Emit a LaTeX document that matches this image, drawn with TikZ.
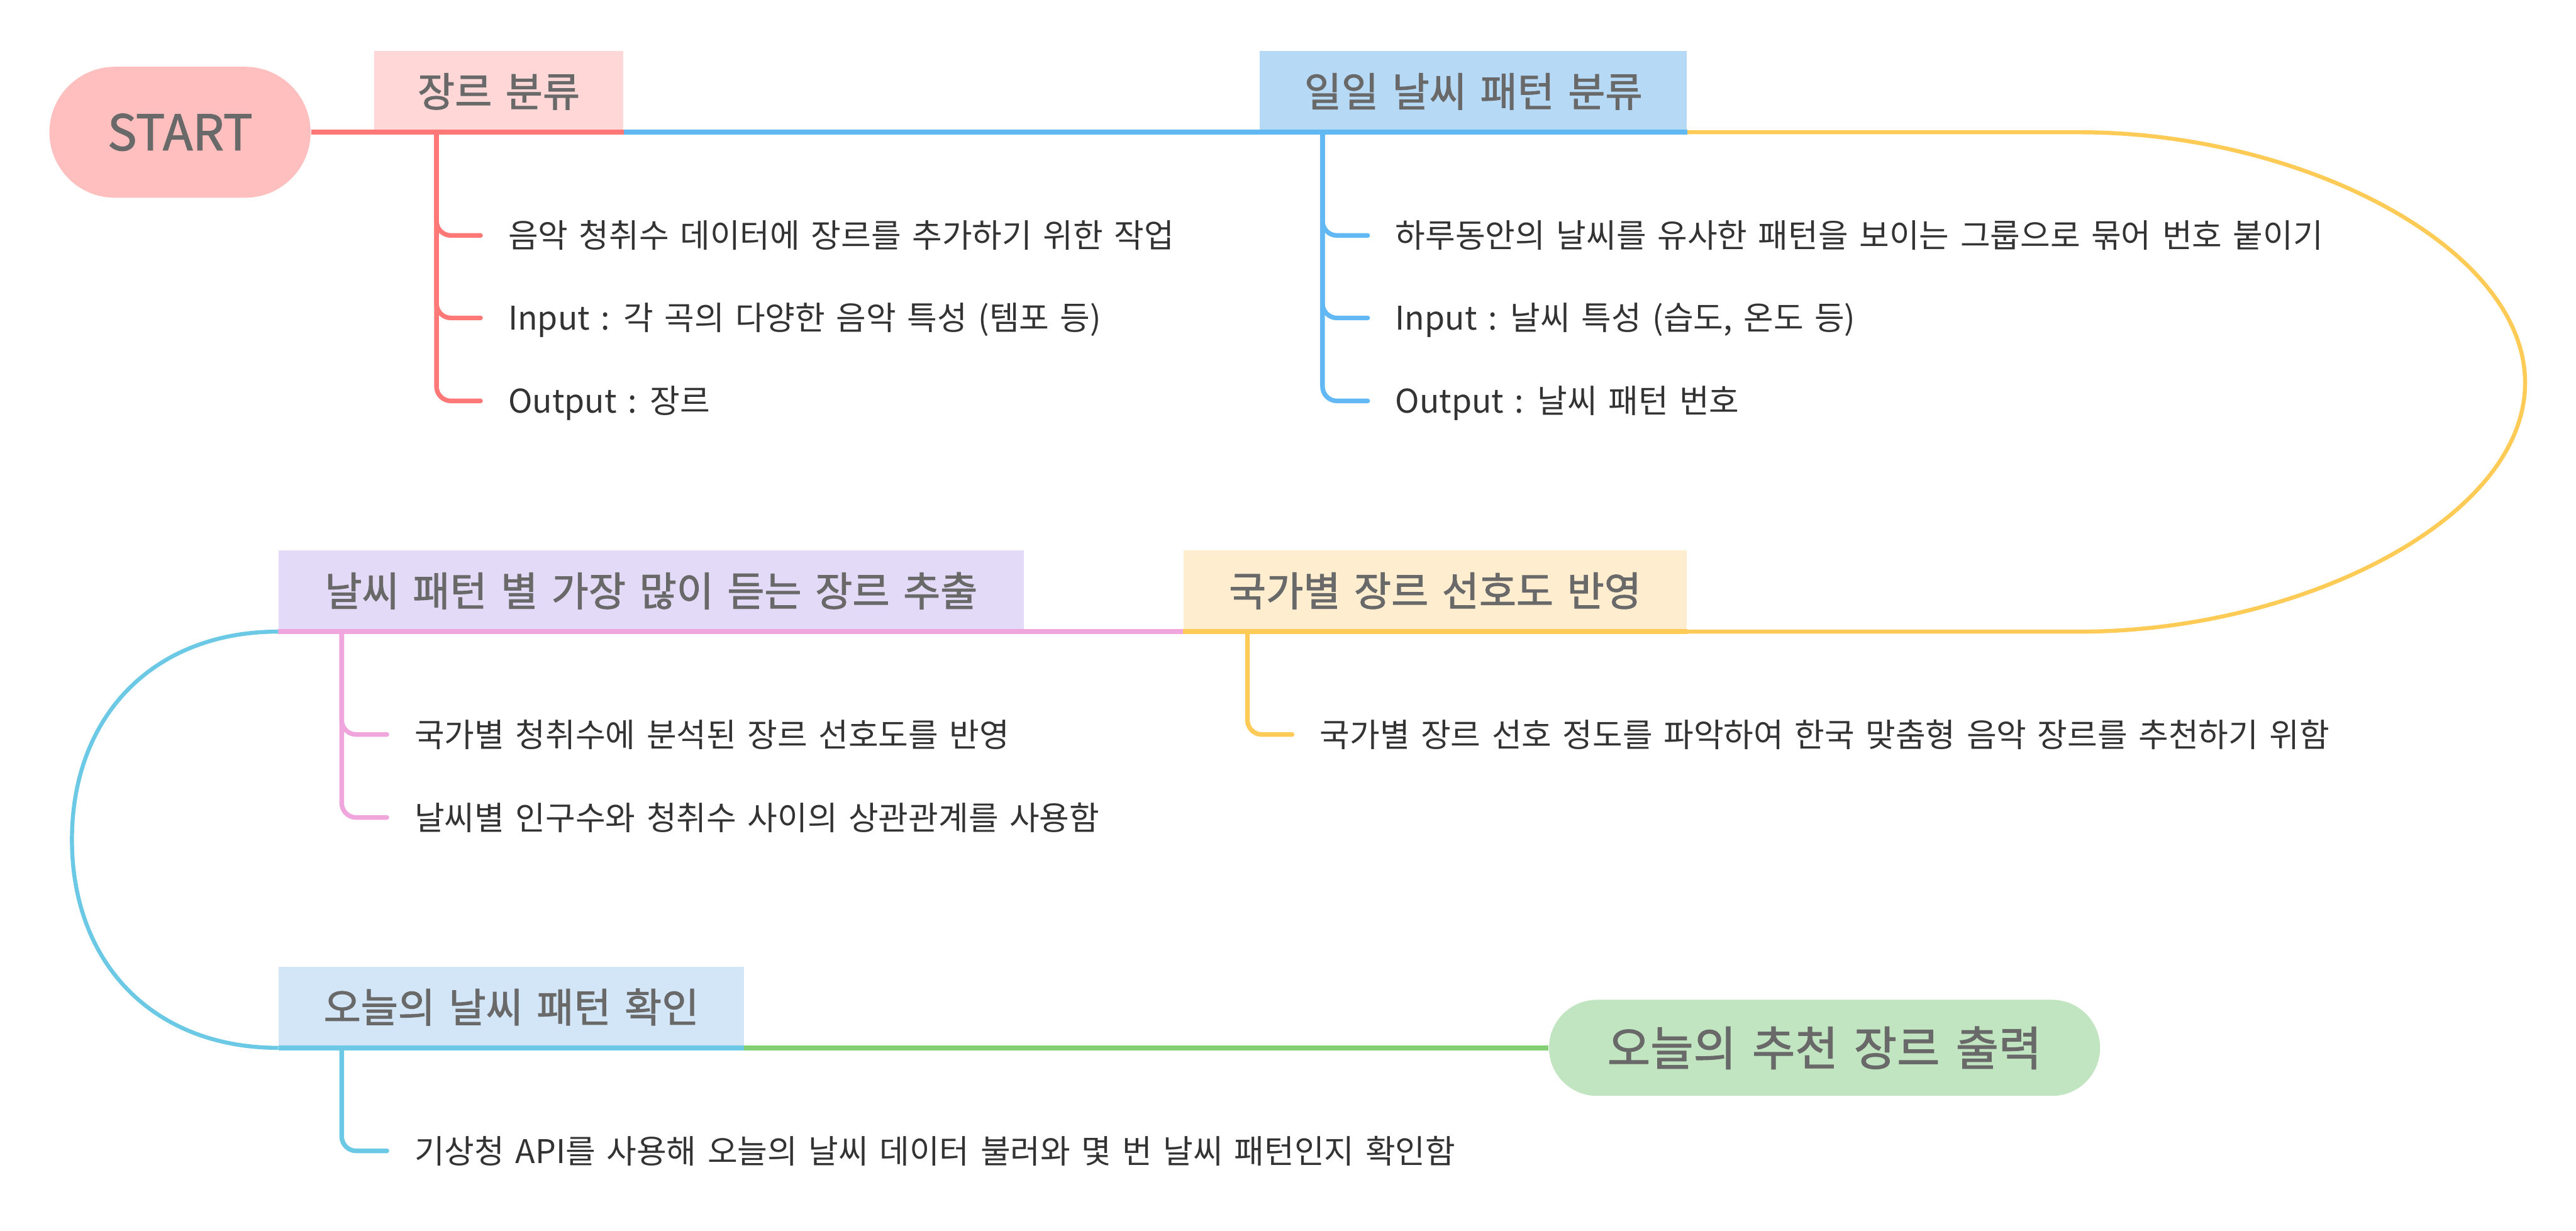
\documentclass[tikz,border=0pt]{standalone}
\usepackage{fontspec}
\setmainfont{Noto Sans CJK KR}[WordSpace=1.5]
\newfontfamily\titlefont{Noto Sans CJK KR}[WordSpace=1.5, FakeBold=1.6]
\usepackage{xcolor}
\definecolor{mmred}{RGB}{255,120,120}
\definecolor{mmblue}{RGB}{98,184,242}
\definecolor{mmyellow}{RGB}{255,203,87}
\definecolor{mmpink}{RGB}{240,166,220}
\definecolor{mmcyan}{RGB}{108,201,229}
\definecolor{mmgreen}{RGB}{131,208,116}
\definecolor{mmstart}{RGB}{255,191,191}
\definecolor{mmgenre}{RGB}{255,215,215}
\definecolor{mmpattern}{RGB}{182,217,245}
\definecolor{mmpref}{RGB}{255,237,208}
\definecolor{mmextract}{RGB}{227,218,247}
\definecolor{mmtoday}{RGB}{210,230,248}
\definecolor{mmresult}{RGB}{193,229,192}
\definecolor{mmtitle}{RGB}{105,105,105}
\definecolor{mmleaf}{RGB}{51,51,51}
\usepackage{tikz}
\usetikzlibrary{calc}

\begin{document}
\begin{tikzpicture}[x=0.02cm, y=-0.02cm,
  topic/.style={fill=#1, inner sep=0pt, minimum height=0.98cm, anchor=south west,
        text=mmtitle, font=\titlefont\fontsize{14}{16}\selectfont},
  pill/.style={fill=#1, inner sep=0pt, text=mmtitle},
  leaf/.style={anchor=west, inner sep=0pt, text=mmleaf, font=\fontsize{11.3}{13}\selectfont,
        text height=9.6pt, text depth=1.1pt},
  trunk/.style={draw=#1, line width=1.65pt},
  loopline/.style={draw=#1, line width=1.4pt},
  twig/.style={draw=#1, line width=1.6pt, rounded corners=5pt, line cap=round}]
  \useasboundingbox (0,0) rectangle (1568,749);

  % Main topics
  \node[pill=mmstart, anchor=east, minimum width=3.18cm, minimum height=1.594cm,
        rounded corners=0.797cm, font=\titlefont\fontsize{17}{20}\selectfont] (start) at (189.4,80.5) {START};
  \node[topic=mmgenre, minimum width=3.03cm] (genre) at (227.5,80.5) {장르 분류};
  \node[topic=mmpattern, minimum width=5.2cm] (pattern) at (766.5,80.5) {일일 날씨 패턴 분류};
  \node[topic=mmpref, minimum width=6.13cm] (pref) at (720,384.4) {국가별 장르 선호도 반영};
  \node[topic=mmextract, minimum width=9.07cm] (extract) at (169.3,384.4) {날씨 패턴 별 가장 많이 듣는 장르 추출};
  \node[topic=mmtoday, minimum width=5.66cm] (today) at (169.4,637.7) {오늘의 날씨 패턴 확인};
  \node[pill=mmresult, anchor=west, minimum width=6.71cm, minimum height=1.17cm,
        rounded corners=0.585cm, font=\titlefont\fontsize{16.2}{19}\selectfont] (result) at (942.5,637.7) {오늘의 추천 장르 출력};

  % Sub topics
  \node[leaf] (g1) at (309,143.3) {음악 청취수 데이터에 장르를 추가하기 위한 작업};
  \node[leaf] (g2) at (309,193.5) {Input : 각 곡의 다양한 음악 특성 (템포 등)};
  \node[leaf] (g3) at (309,244) {Output : 장르};
  \node[leaf] (p1) at (849,143.3) {하루동안의 날씨를 유사한 패턴을 보이는 그룹으로 묶어 번호 붙이기};
  \node[leaf] (p2) at (849,193.5) {Input : 날씨 특성 (습도, 온도 등)};
  \node[leaf] (p3) at (849,244) {Output : 날씨 패턴 번호};
  \node[leaf] (r1) at (803,447) {국가별 장르 선호 정도를 파악하여 한국 맞춤형 음악 장르를 추천하기 위함};
  \node[leaf] (e1) at (252,447) {국가별 청취수에 분석된 장르 선호도를 반영};
  \node[leaf] (e2) at (252,497.5) {날씨별 인구수와 청취수 사이의 상관관계를 사용함};
  \node[leaf] (t1) at (252,700.4) {기상청 API를 사용해 오늘의 날씨 데이터 불러와 몇 번 날씨 패턴인지 확인함};

  % Main line
  \draw[trunk=mmred] (start.east) -- (genre.south east);
  \draw[trunk=mmred] (genre.south west) -- (genre.south east);
  \draw[trunk=mmblue] (genre.south east) -- (pattern.south east);
  \draw[loopline=mmyellow] (pattern.south east) -- (1266,80.5)
        .. controls (1400,80.5) and (1537,150) .. (1537,233)
        .. controls (1537,316) and (1400,384.4) .. (1266,384.4) -- (pref.south east);
  \draw[trunk=mmyellow] (pref.south east) -- (pref.south west);
  \draw[trunk=mmpink] (pref.south west) -- (extract.south west);
  \draw[loopline=mmcyan] (extract.south west)
        .. controls (94,384.4) and (43.8,435.1) .. (43.8,511)
        .. controls (43.8,587) and (94,637.7) .. (today.south west);
  \draw[trunk=mmcyan] (today.south west) -- (today.south east);
  \draw[trunk=mmgreen] (today.south east) -- (result.west);

  % Branches
  \foreach \leafname in {g1,g2,g3}
    \draw[twig=mmred] ($(genre.south west)+(38.2,0)$) |- ($(\leafname.west)+(-16.5,0)$);
  \foreach \leafname in {p1,p2,p3}
    \draw[twig=mmblue] ($(pattern.south west)+(38.5,0)$) |- ($(\leafname.west)+(-16.5,0)$);
  \draw[twig=mmyellow] ($(pref.south west)+(39.3,0)$) |- ($(r1.west)+(-16.5,0)$);
  \foreach \leafname in {e1,e2}
    \draw[twig=mmpink] ($(extract.south west)+(38.7,0)$) |- ($(\leafname.west)+(-16.5,0)$);
  \draw[twig=mmcyan] ($(today.south west)+(38.6,0)$) |- ($(t1.west)+(-16.5,0)$);
\end{tikzpicture}
\end{document}
